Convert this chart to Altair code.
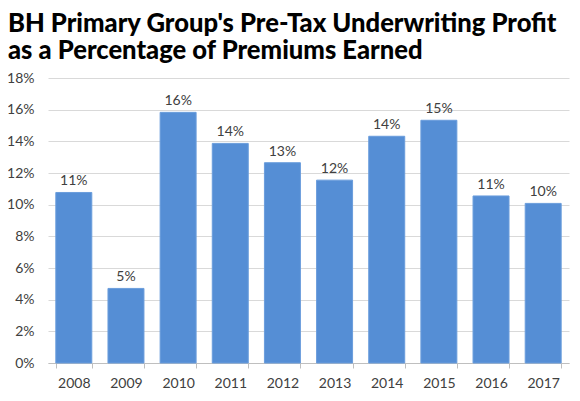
import altair as alt
import pandas as pd

# values (fraction of premiums earned)
years = ["2008", "2009", "2010", "2011", "2012", "2013", "2014", "2015", "2016", "2017"]
profit_pct = [0.1077, 0.0471, 0.1583, 0.1387, 0.1265, 0.1155, 0.1432, 0.1533, 0.1055, 0.1008]

dat = pd.DataFrame({"year": years, "profit": profit_pct})

title_lines = [
    "BH Primary Group's Pre-Tax Underwriting Profit",
    "as a Percentage of Premiums Earned",
]

base = alt.Chart(dat).encode(
    x=alt.X(
        "year:N",
        title=None,
        sort=years,
        scale=alt.Scale(paddingInner=0.31, paddingOuter=0.15),
        axis=alt.Axis(
            labelAngle=0,
            labelFont="Lato",
            labelFontSize=14,
            labelColor="#404040",
            labelPadding=8,
            domainColor="#BFBFBF",
            tickColor="#BFBFBF",
            tickBand="extent",
            tickSize=5,
            grid=False,
        ),
    ),
    y=alt.Y(
        "profit:Q",
        title=None,
        scale=alt.Scale(domain=[0, 0.18], nice=False),
        axis=alt.Axis(
            values=[0, 0.02, 0.04, 0.06, 0.08, 0.10, 0.12, 0.14, 0.16, 0.18],
            format=".0%",
            labelFont="Lato",
            labelFontSize=14,
            labelColor="#404040",
            labelPadding=14,
            domain=False,
            ticks=False,
            gridColor="#D9D9D9",
            gridWidth=1,
        ),
    ),
)

bars = base.mark_bar(color="#558ED5", stroke="#6A9DDC", strokeWidth=1)

labels = base.mark_text(
    baseline="bottom",
    dy=-4,
    font="Lato",
    fontSize=14,
    color="#404040",
).encode(text=alt.Text("profit:Q", format=".0%"))

chart = (
    (bars + labels)
    .properties(
        width=521,
        height=285,
        autosize=alt.AutoSizeParams(type="none"),
        padding={"left": 40, "top": 70, "right": 3, "bottom": 30},
        title=alt.TitleParams(
            text=title_lines,
            anchor="start",
            frame="group",
            dx=-40,
            dy=-2,
            font="Lato",
            fontSize=25.6,
            fontWeight=900,
            color="#000000",
            lineHeight=27,
        ),
    )
    .configure_view(stroke=None)
)

chart.save("out.html", embed_options={"renderer": "svg", "actions": False})
